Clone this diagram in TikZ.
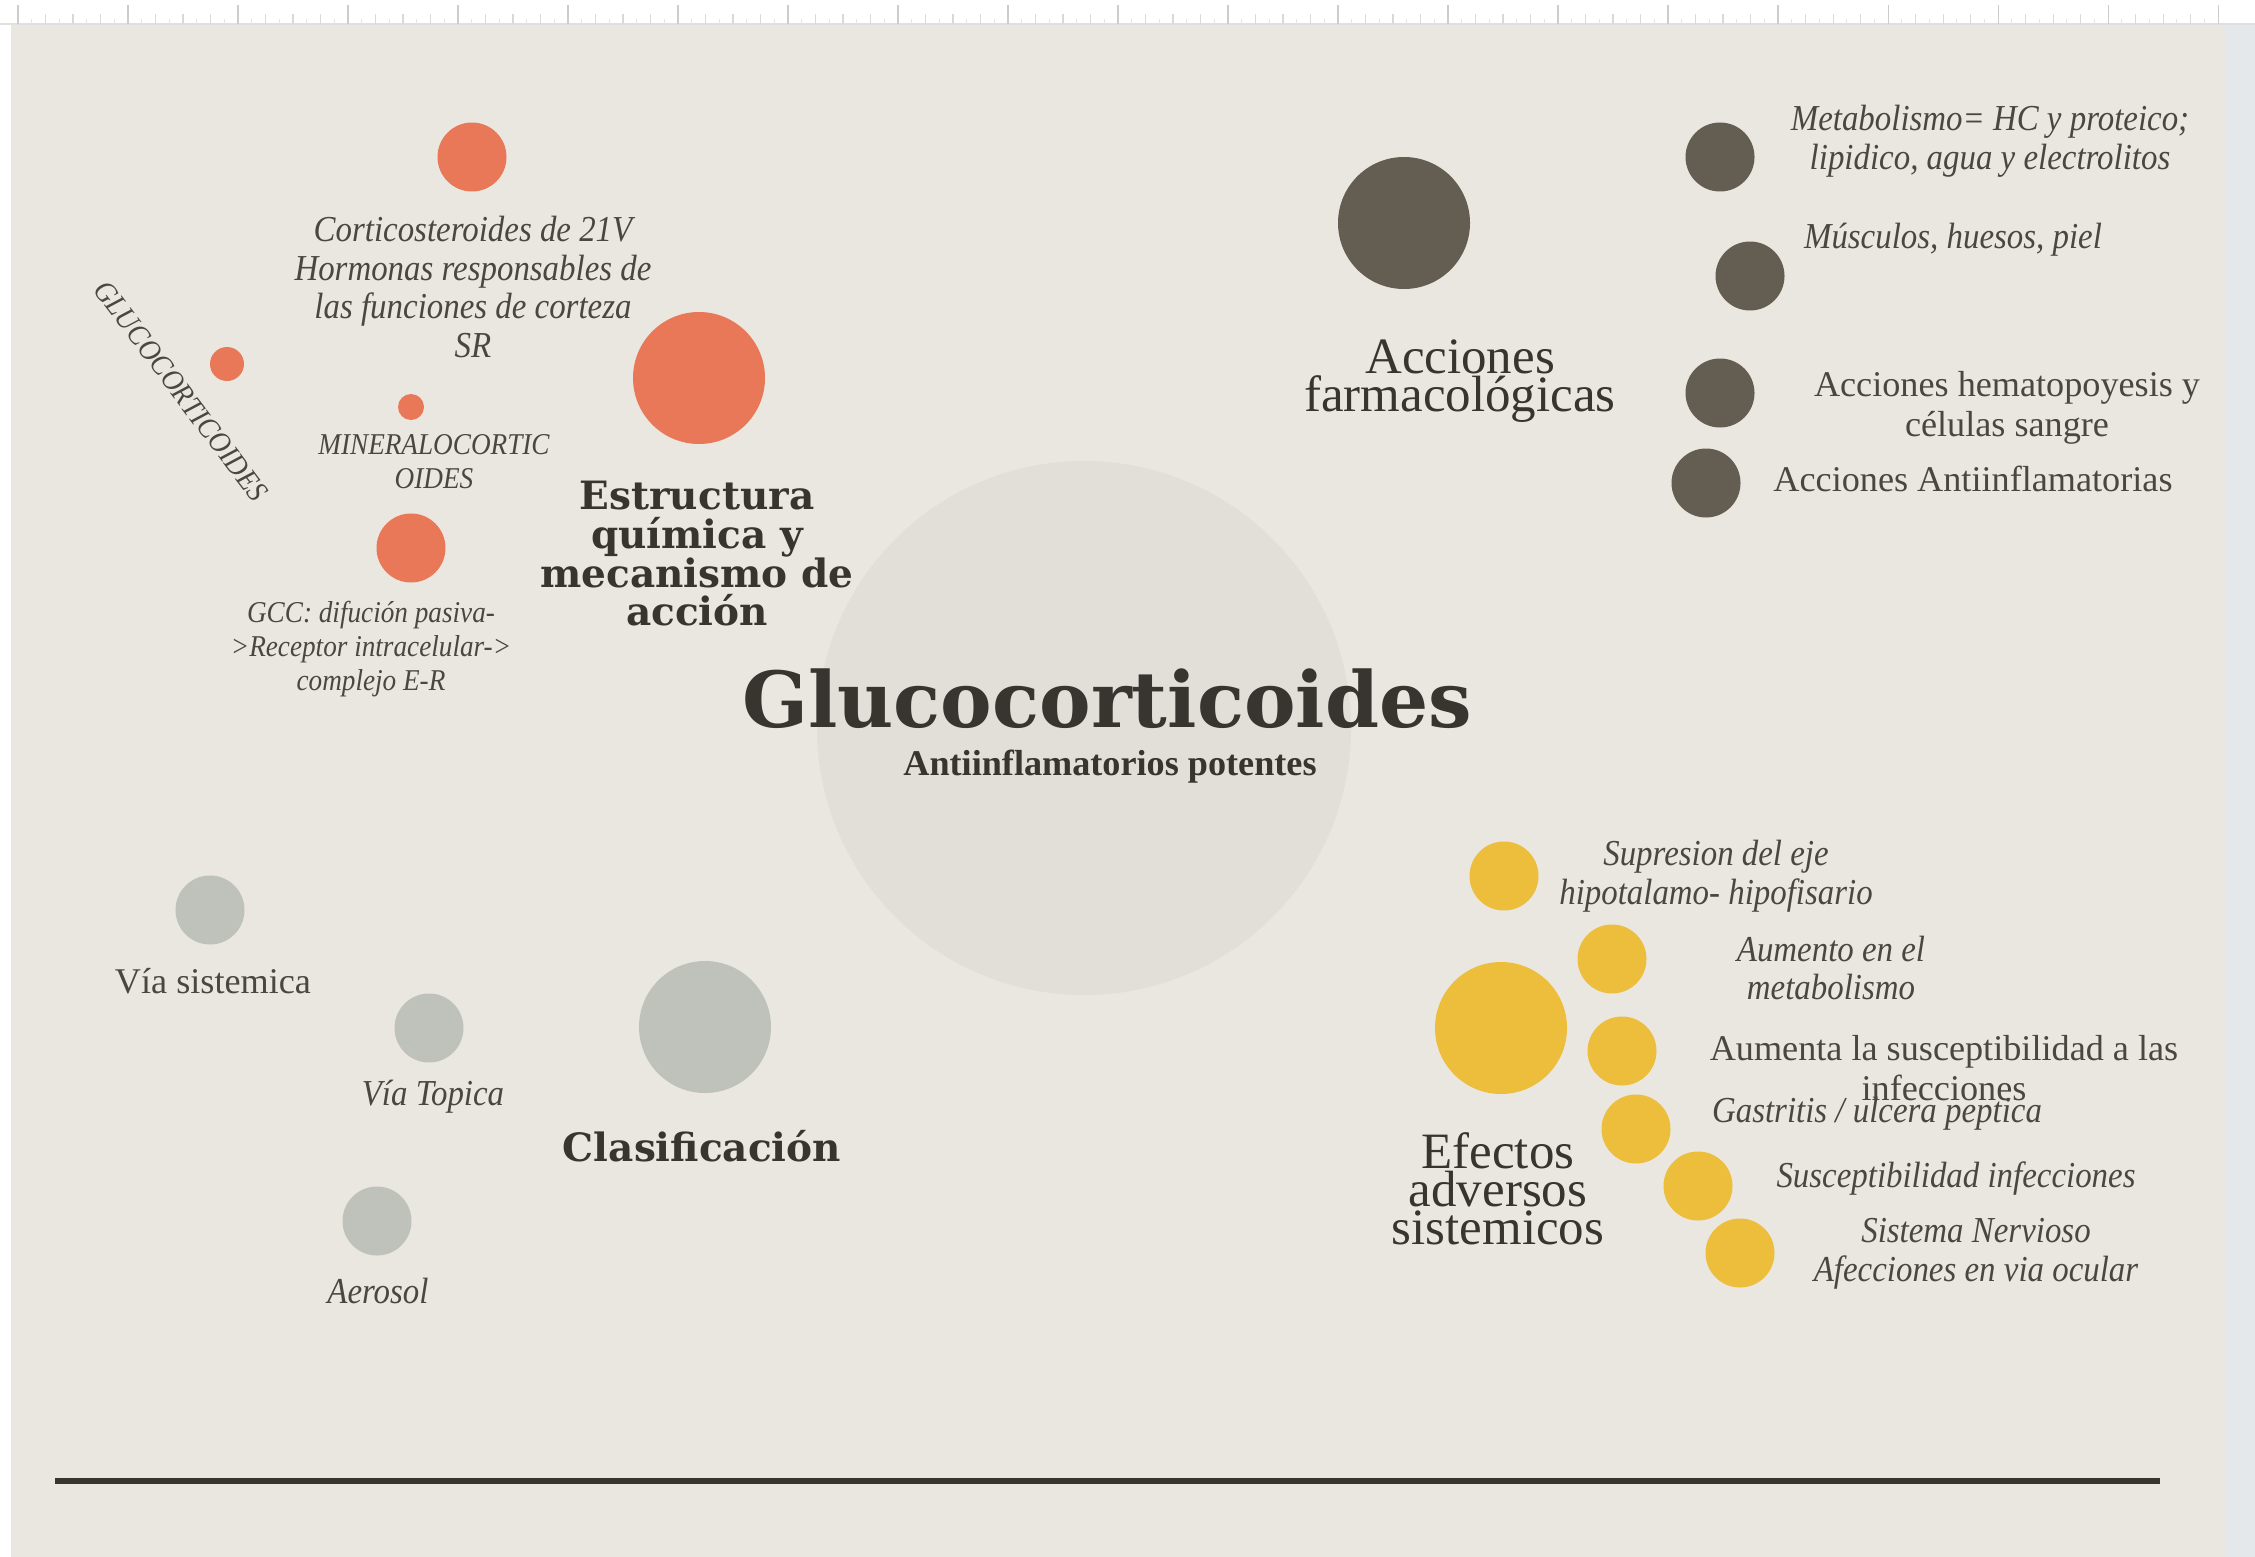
\documentclass[tikz,border=0pt]{standalone}
\usepackage{fontspec}
\setmainfont{Liberation Serif}
\newfontfamily\headfont{DejaVu Serif}
\newfontfamily\condfont{Liberation Serif}[FakeStretch=0.9]
\definecolor{paper}{HTML}{EAE7E0}
\definecolor{hub}{HTML}{E2DFD9}
\definecolor{salmon}{HTML}{E97858}
\definecolor{umber}{HTML}{645D52}
\definecolor{mustard}{HTML}{ECBE3C}
\definecolor{sage}{HTML}{BFC2BB}
\definecolor{ink}{HTML}{38342F}
\definecolor{softink}{HTML}{4A4640}
\definecolor{edge}{HTML}{E4E8EA}
\begin{document}
\begin{tikzpicture}[scale=0.1]
\tikzstyle{every node}+=[inner sep=0pt]
\tikzstyle{lbl}=[align=center, text=softink, font=\condfont\itshape\fontsize{10.4}{11}\selectfont]
\tikzstyle{lblsm}=[align=center, text=softink, font=\condfont\itshape\fontsize{8.6}{9.6}\selectfont]
\tikzstyle{lblrm}=[align=center, text=softink, font=\fontsize{10.3}{11.4}\selectfont]
\tikzstyle{head}=[align=center, text=ink, font=\headfont\bfseries\fontsize{11.1}{11}\selectfont]
\tikzstyle{headrm}=[align=center, text=ink, font=\fontsize{14.5}{10.8}\selectfont]
\useasboundingbox (0,0) rectangle (225.5,-155.7);
% page
\fill[paper] (0,0) rectangle (225.5,-155.7);
\fill[white] (0,0) rectangle (1.1,-155.7);
\fill[edge] (222.5,0) rectangle (225.5,-155.7);
\fill[white] (0,0) rectangle (225.5,-2.4);
\draw[black!12, line width=0.3pt] (0,-2.4) -- (225.5,-2.4);
\foreach \i in {0,...,80} \draw[black!15, line width=0.3pt] ({1.8+2.75*\i},-2.4) -- ++(0,1.0);
\foreach \i in {0,...,79} \draw[black!10, line width=0.3pt] ({3.175+2.75*\i},-2.4) -- ++(0,0.5);
\foreach \i in {0,...,20} \draw[black!20, line width=0.3pt] ({1.8+11*\i},-2.4) -- ++(0,1.9);
% centre
\fill[hub] (108.4,-72.8) circle (26.7);
\node[text=ink, font=\headfont\bfseries\fontsize{22}{26}\selectfont] (title) at (110.7,-69.9) {Glucocorticoides};
\node[text=ink, font=\bfseries\fontsize{10.3}{12}\selectfont] (subtitle) at (111.0,-76.7) {Antiinflamatorios potentes};
% estructura quimica
\fill[salmon] (47.2,-15.7) circle (3.45);
\fill[salmon] (69.9,-37.8) circle (6.6);
\fill[salmon] (22.7,-36.4) circle (1.7);
\fill[salmon] (41.1,-40.7) circle (1.3);
\fill[salmon] (41.1,-54.8) circle (3.45);
\node[head] (estructura) at (69.7,-55.4) {Estructura\\química y\\mecanismo de\\acción};
\node[lbl] (corti) at (47.3,-28.7) {Corticosteroides de 21V\\Hormonas responsables de\\las funciones de corteza\\SR};
\node[lblsm, rotate=-53] (gluco) at (18.1,-39.1) {GLUCOCORTICOIDES};
\node[lblsm] (minera) at (43.4,-46.2) {MINERALOCORTIC\\OIDES};
\node[lblsm] (gcc) at (37.1,-64.9) {GCC: difución pasiva-\\>Receptor intracelular->\\complejo E-R};
% acciones
\fill[umber] (140.4,-22.3) circle (6.6);
\fill[umber] (172.0,-15.7) circle (3.45);
\fill[umber] (175.0,-27.6) circle (3.45);
\fill[umber] (172.0,-39.3) circle (3.45);
\fill[umber] (170.6,-48.3) circle (3.45);
\node[headrm] (acciones) at (146.0,-38.1) {Acciones\\farmacológicas};
\node[lbl] (metab) at (199.0,-14.1) {Metabolismo= HC y proteico;\\lipidico, agua y electrolitos};
\node[lbl] (musc) at (195.3,-24.0) {Músculos, huesos, piel};
\node[lblrm] (hemato) at (200.7,-40.8) {Acciones hematopoyesis y\\células sangre};
\node[lblrm] (antiinf) at (197.3,-47.9) {Acciones Antiinflamatorias};
% efectos adversos
\fill[mustard] (150.1,-102.8) circle (6.6);
\fill[mustard] (150.4,-87.6) circle (3.45);
\fill[mustard] (161.2,-95.9) circle (3.45);
\fill[mustard] (162.2,-105.1) circle (3.45);
\fill[mustard] (163.6,-112.9) circle (3.45);
\fill[mustard] (169.8,-118.6) circle (3.45);
\fill[mustard] (174.0,-125.3) circle (3.45);
\node[headrm] (efectos) at (149.8,-118.9) {Efectos\\adversos\\sistemicos};
\node[lbl] (supres) at (171.6,-87.6) {Supresion del eje\\hipotalamo- hipofisario};
\node[lbl] (aumento) at (183.1,-96.8) {Aumento en el\\metabolismo};
\node[lblrm] (suscep) at (194.4,-106.8) {Aumenta la susceptibilidad a las\\infecciones};
\node[lbl] (gastri) at (187.7,-111.4) {Gastritis / ulcera peptica};
\node[lbl] (infec) at (195.6,-117.9) {Susceptibilidad infecciones};
\node[lbl] (nervio) at (197.6,-125.4) {Sistema Nervioso\\Afecciones en via ocular};
% clasificacion
\fill[sage] (70.5,-102.7) circle (6.6);
\fill[sage] (21.0,-91.0) circle (3.45);
\fill[sage] (42.9,-102.8) circle (3.45);
\fill[sage] (37.7,-122.1) circle (3.45);
\node[head] (clasif) at (70.2,-114.6) {Clasificación};
\node[lblrm] (sistem) at (21.3,-98.1) {Vía sistemica};
\node[lbl] (topica) at (43.3,-109.7) {Vía Topica};
\node[lbl] (aerosol) at (37.8,-129.1) {Aerosol};
% rule
\draw[ink, line width=1.7pt] (5.5,-148.1) -- (216.0,-148.1);
\end{tikzpicture}
\end{document}
